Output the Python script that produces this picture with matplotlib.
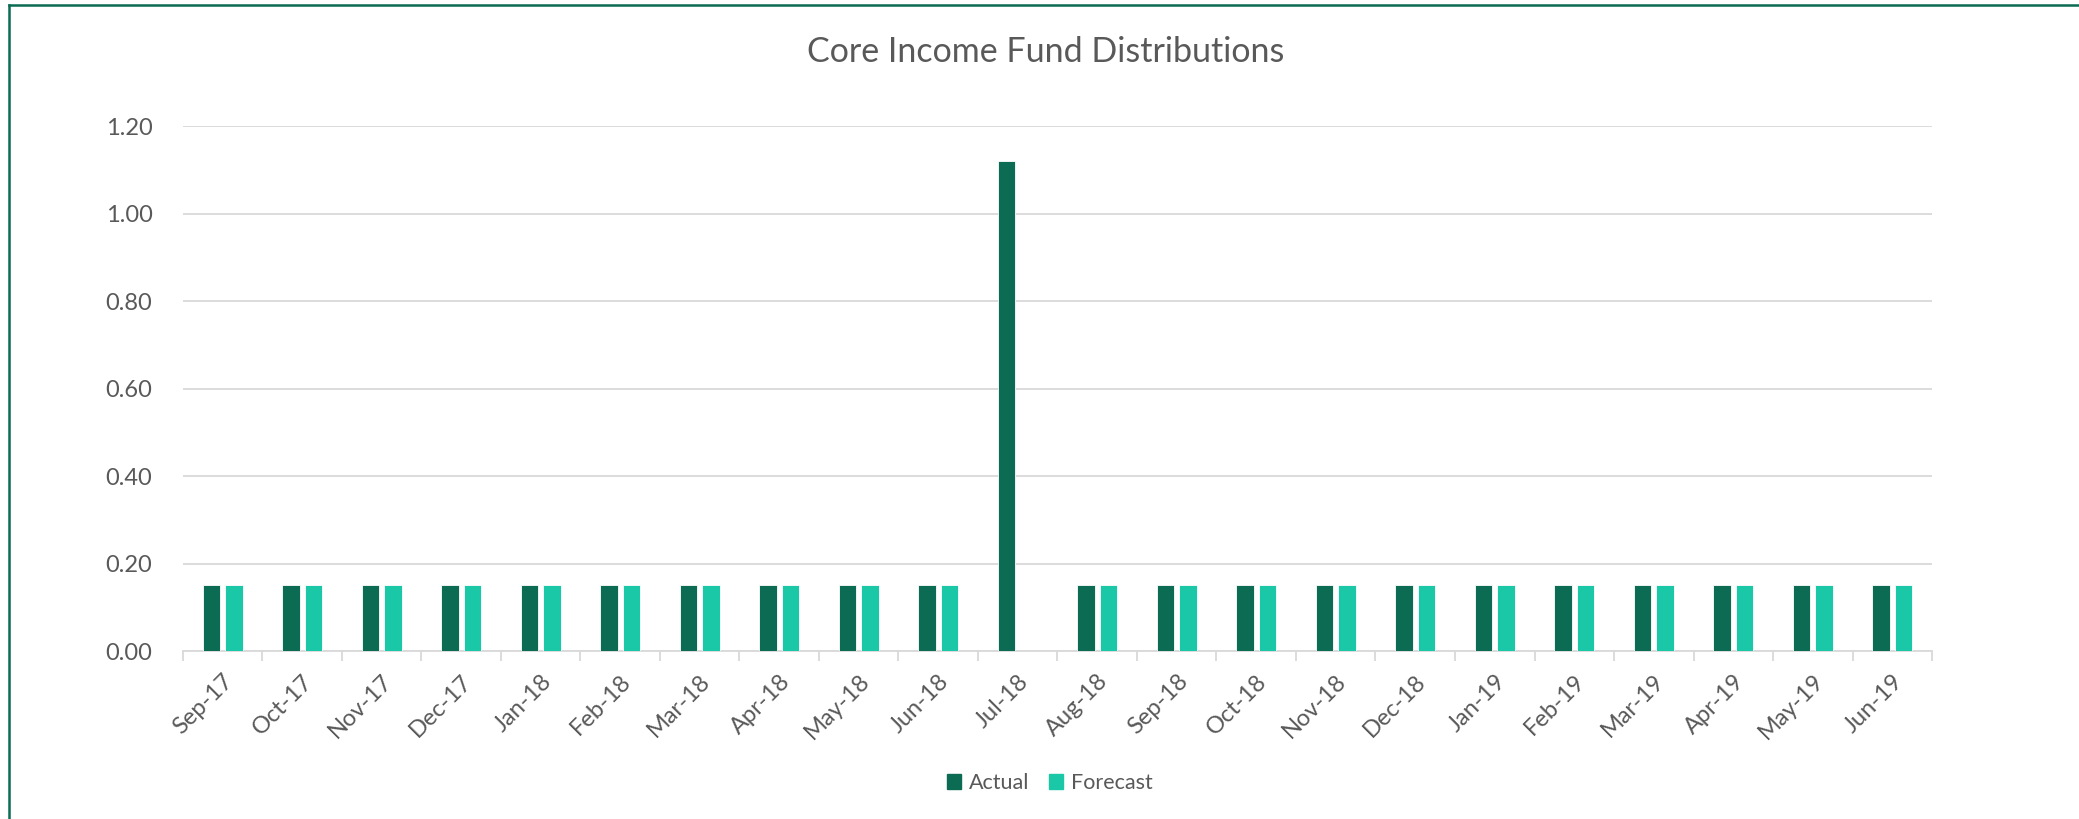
import numpy as np
import matplotlib
matplotlib.use("Agg")
import matplotlib.pyplot as plt
from matplotlib.lines import Line2D
from matplotlib.patches import Patch

plt.rcParams['font.family'] = ['Lato', 'DejaVu Sans']

# data
months = ['Sep-17', 'Oct-17', 'Nov-17', 'Dec-17', 'Jan-18', 'Feb-18', 'Mar-18',
          'Apr-18', 'May-18', 'Jun-18', 'Jul-18', 'Aug-18', 'Sep-18', 'Oct-18',
          'Nov-18', 'Dec-18', 'Jan-19', 'Feb-19', 'Mar-19', 'Apr-19', 'May-19',
          'Jun-19']
actual = [0.15, 0.15, 0.15, 0.15, 0.15, 0.15, 0.15, 0.15, 0.15, 0.15, 1.12,
          0.15, 0.15, 0.15, 0.15, 0.15, 0.15, 0.15, 0.15, 0.15, 0.15, 0.15]
forecast = [0.15, 0.15, 0.15, 0.15, 0.15, 0.15, 0.15, 0.15, 0.15, 0.15, 0,
            0.15, 0.15, 0.15, 0.15, 0.15, 0.15, 0.15, 0.15, 0.15, 0.15, 0.15]

c_actual = '#0B6B53'
c_forecast = '#1AC8A8'
txt = '#595959'
grid = '#D9D9D9'

fig = plt.figure(figsize=(20.79, 8.19), dpi=100)
ax = fig.add_axes([0.088, 0.205, 0.8413, 0.641])

x = np.arange(len(months))
w = 0.222
ax.bar(x - 0.14, actual, w, color=c_actual, edgecolor='white', linewidth=0.6, zorder=3)
ax.bar(x + 0.14, forecast, w, color=c_forecast, edgecolor='white', linewidth=0.6, zorder=3)

ax.set_xlim(-0.5, len(months) - 0.5)
ax.set_ylim(0, 1.2)
ax.set_yticks(np.arange(0, 1.21, 0.2))
ax.set_yticklabels([f'{v:.2f}' for v in np.arange(0, 1.21, 0.2)])
ax.yaxis.grid(True, color=grid, linewidth=1.3, zorder=0)
ax.tick_params(axis='y', length=0, pad=22, labelsize=17, labelcolor=txt)

# category boundary ticks
ax.set_xticks(np.arange(-0.5, len(months), 1.0), minor=True)
ax.set_xticks(x)
ax.set_xticklabels(months, rotation=45, ha='right', rotation_mode='anchor')
ax.tick_params(axis='x', which='major', length=0, pad=14, labelsize=17, labelcolor=txt)
ax.tick_params(axis='x', which='minor', length=7, width=1.3, color=grid)

for s in ['top', 'right', 'left']:
    ax.spines[s].set_visible(False)
ax.spines['bottom'].set_color(grid)
ax.spines['bottom'].set_linewidth(1.3)

fig.text(0.503, 0.937, 'Core Income Fund Distributions', ha='center', va='center',
         fontsize=24.5, color=txt)

handles = [Patch(color=c_actual, label='Actual'), Patch(color=c_forecast, label='Forecast')]
fig.legend(handles=handles, loc='center', bbox_to_anchor=(0.505, 0.044), ncol=2,
           frameon=False, fontsize=15.5, labelcolor=txt, handlelength=0.65,
           handleheight=0.65, handletextpad=0.4, columnspacing=0.9)

# green frame of the chart, cut off on the right and bottom
fig.add_artist(Line2D([9 / 2079, 9 / 2079], [0, 1 - 5 / 819], color=c_actual, linewidth=1.8))
fig.add_artist(Line2D([9 / 2079, 1], [1 - 5 / 819, 1 - 5 / 819], color=c_actual, linewidth=1.8))

fig.savefig('out.png', dpi=100)
